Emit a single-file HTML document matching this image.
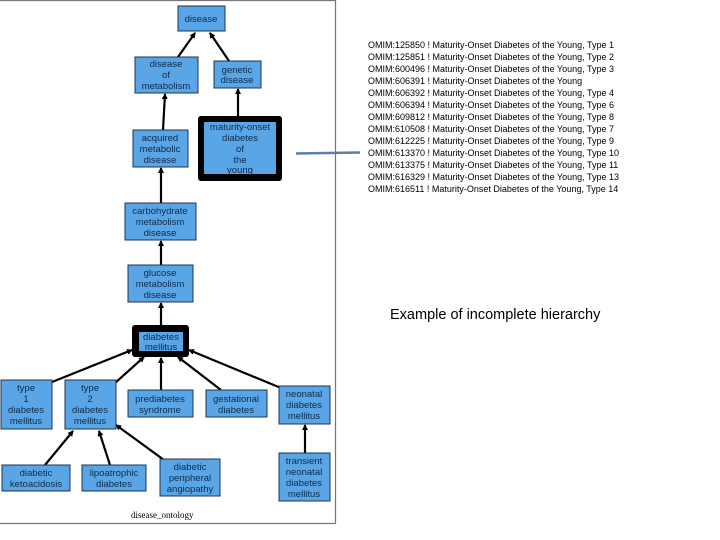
<!DOCTYPE html>
<html><head><meta charset="utf-8"><style>
html,body{margin:0;padding:0;background:#fff;width:720px;height:540px;overflow:hidden}
svg{display:block}
.n{fill:#5aa5e6;stroke:#1c3550;stroke-width:1}
.t{font-family:"Liberation Sans",sans-serif;font-size:9.5px;fill:#0e2a4a;text-anchor:middle}
.e{stroke:#000;stroke-width:2.2;fill:none}
.r{font-family:"Liberation Sans",sans-serif;font-size:9px;fill:#000}
</style></head><body>
<svg width="720" height="540" viewBox="0 0 720 540">
<defs><marker id="a" markerWidth="6" markerHeight="6" refX="5" refY="3" orient="auto" markerUnits="userSpaceOnUse"><path d="M0,0 L6,3 L0,6 z" fill="#000"/></marker></defs>
<path d="M0,0.5 H335.5 V523.5 H0" fill="none" stroke="#777" stroke-width="1.2"/>
<!-- edges -->
<g class="e" marker-end="url(#a)">
<line x1="178" y1="57" x2="195" y2="33"/>
<line x1="229" y1="61" x2="210" y2="33"/>
<line x1="163" y1="130" x2="165" y2="94"/>
<line x1="238" y1="117" x2="238" y2="89"/>
<line x1="161" y1="203" x2="161" y2="168"/>
<line x1="161" y1="265" x2="161" y2="241"/>
<line x1="161" y1="325" x2="161" y2="303"/>
<line x1="52" y1="382" x2="132" y2="350"/>
<line x1="115" y1="383" x2="144" y2="357"/>
<line x1="161" y1="390" x2="161" y2="358"/>
<line x1="221" y1="390" x2="178" y2="357"/>
<line x1="281" y1="388" x2="189" y2="350"/>
<line x1="45" y1="465" x2="73" y2="431"/>
<line x1="110" y1="465" x2="99" y2="431"/>
<line x1="164" y1="460" x2="116" y2="425"/>
<line x1="305" y1="453" x2="305" y2="425"/>
</g>
<!-- nodes -->
<rect class="n" x="178" y="6" width="47" height="25"/>
<text class="t" x="201" y="22">disease</text>
<rect class="n" x="135" y="57" width="63" height="36"/>
<text class="t" x="166" y="67">disease</text><text class="t" x="166" y="78">of</text><text class="t" x="166" y="89">metabolism</text>
<rect class="n" x="214" y="61" width="47" height="27"/>
<text class="t" x="237" y="73">genetic</text><text class="t" x="237" y="83">disease</text>
<rect x="198" y="116" width="84" height="65" rx="3" fill="#000"/>
<rect x="204" y="122" width="72" height="52" fill="#5aa5e6"/>
<text class="t" x="240" y="130">maturity-onset</text><text class="t" x="240" y="141">diabetes</text><text class="t" x="240" y="152">of</text><text class="t" x="240" y="163">the</text><text class="t" x="240" y="173">young</text>
<rect class="n" x="133" y="130" width="55" height="37"/>
<text class="t" x="160" y="141">acquired</text><text class="t" x="160" y="152">metabolic</text><text class="t" x="160" y="163">disease</text>
<rect class="n" x="125" y="203" width="71" height="37"/>
<text class="t" x="160" y="214">carbohydrate</text><text class="t" x="160" y="225">metabolism</text><text class="t" x="160" y="236">disease</text>
<rect class="n" x="128" y="265" width="65" height="37"/>
<text class="t" x="160" y="276">glucose</text><text class="t" x="160" y="287">metabolism</text><text class="t" x="160" y="298">disease</text>
<rect x="132" y="325" width="57" height="32" rx="3" fill="#000"/>
<rect x="139" y="332" width="44" height="19" fill="#5aa5e6"/>
<text class="t" x="161" y="340">diabetes</text><text class="t" x="161" y="350">mellitus</text>
<rect class="n" x="1" y="380" width="51" height="49"/>
<text class="t" x="26" y="391">type</text><text class="t" x="26" y="402">1</text><text class="t" x="26" y="413">diabetes</text><text class="t" x="26" y="424">mellitus</text>
<rect class="n" x="65" y="380" width="51" height="49"/>
<text class="t" x="90" y="391">type</text><text class="t" x="90" y="402">2</text><text class="t" x="90" y="413">diabetes</text><text class="t" x="90" y="424">mellitus</text>
<rect class="n" x="128" y="390" width="65" height="27"/>
<text class="t" x="160" y="402">prediabetes</text><text class="t" x="160" y="413">syndrome</text>
<rect class="n" x="206" y="390" width="61" height="27"/>
<text class="t" x="236" y="402">gestational</text><text class="t" x="236" y="413">diabetes</text>
<rect class="n" x="279" y="386" width="51" height="38"/>
<text class="t" x="304" y="397">neonatal</text><text class="t" x="304" y="408">diabetes</text><text class="t" x="304" y="419">mellitus</text>
<rect class="n" x="2" y="465" width="68" height="26"/>
<text class="t" x="36" y="476">diabetic</text><text class="t" x="36" y="487">ketoacidosis</text>
<rect class="n" x="82" y="465" width="64" height="26"/>
<text class="t" x="114" y="476">lipoatrophic</text><text class="t" x="114" y="487">diabetes</text>
<rect class="n" x="160" y="459" width="60" height="37"/>
<text class="t" x="190" y="470">diabetic</text><text class="t" x="190" y="481">peripheral</text><text class="t" x="190" y="492">angiopathy</text>
<rect class="n" x="279" y="453" width="51" height="48"/>
<text class="t" x="304" y="464">transient</text><text class="t" x="304" y="475">neonatal</text><text class="t" x="304" y="486">diabetes</text><text class="t" x="304" y="497">mellitus</text>
<text x="131" y="518" font-family="Liberation Serif,serif" font-size="9" fill="#000">disease_ontology</text>
<line x1="296" y1="153.5" x2="360" y2="152.5" stroke="#5b7faa" stroke-width="2.5"/>
<g class="r">
<text x="368" y="48">OMIM:125850 ! Maturity-Onset Diabetes of the Young, Type 1</text>
<text x="368" y="60">OMIM:125851 ! Maturity-Onset Diabetes of the Young, Type 2</text>
<text x="368" y="72">OMIM:600496 ! Maturity-Onset Diabetes of the Young, Type 3</text>
<text x="368" y="84">OMIM:606391 ! Maturity-Onset Diabetes of the Young</text>
<text x="368" y="96">OMIM:606392 ! Maturity-Onset Diabetes of the Young, Type 4</text>
<text x="368" y="108">OMIM:606394 ! Maturity-Onset Diabetes of the Young, Type 6</text>
<text x="368" y="120">OMIM:609812 ! Maturity-Onset Diabetes of the Young, Type 8</text>
<text x="368" y="132">OMIM:610508 ! Maturity-Onset Diabetes of the Young, Type 7</text>
<text x="368" y="144">OMIM:612225 ! Maturity-Onset Diabetes of the Young, Type 9</text>
<text x="368" y="156">OMIM:613370 ! Maturity-Onset Diabetes of the Young, Type 10</text>
<text x="368" y="168">OMIM:613375 ! Maturity-Onset Diabetes of the Young, Type 11</text>
<text x="368" y="180">OMIM:616329 ! Maturity-Onset Diabetes of the Young, Type 13</text>
<text x="368" y="192">OMIM:616511 ! Maturity-Onset Diabetes of the Young, Type 14</text>
</g>
<text x="390" y="319" font-family="Liberation Sans,sans-serif" font-size="14.5" fill="#000">Example of incomplete hierarchy</text>
</svg>
</body></html>
